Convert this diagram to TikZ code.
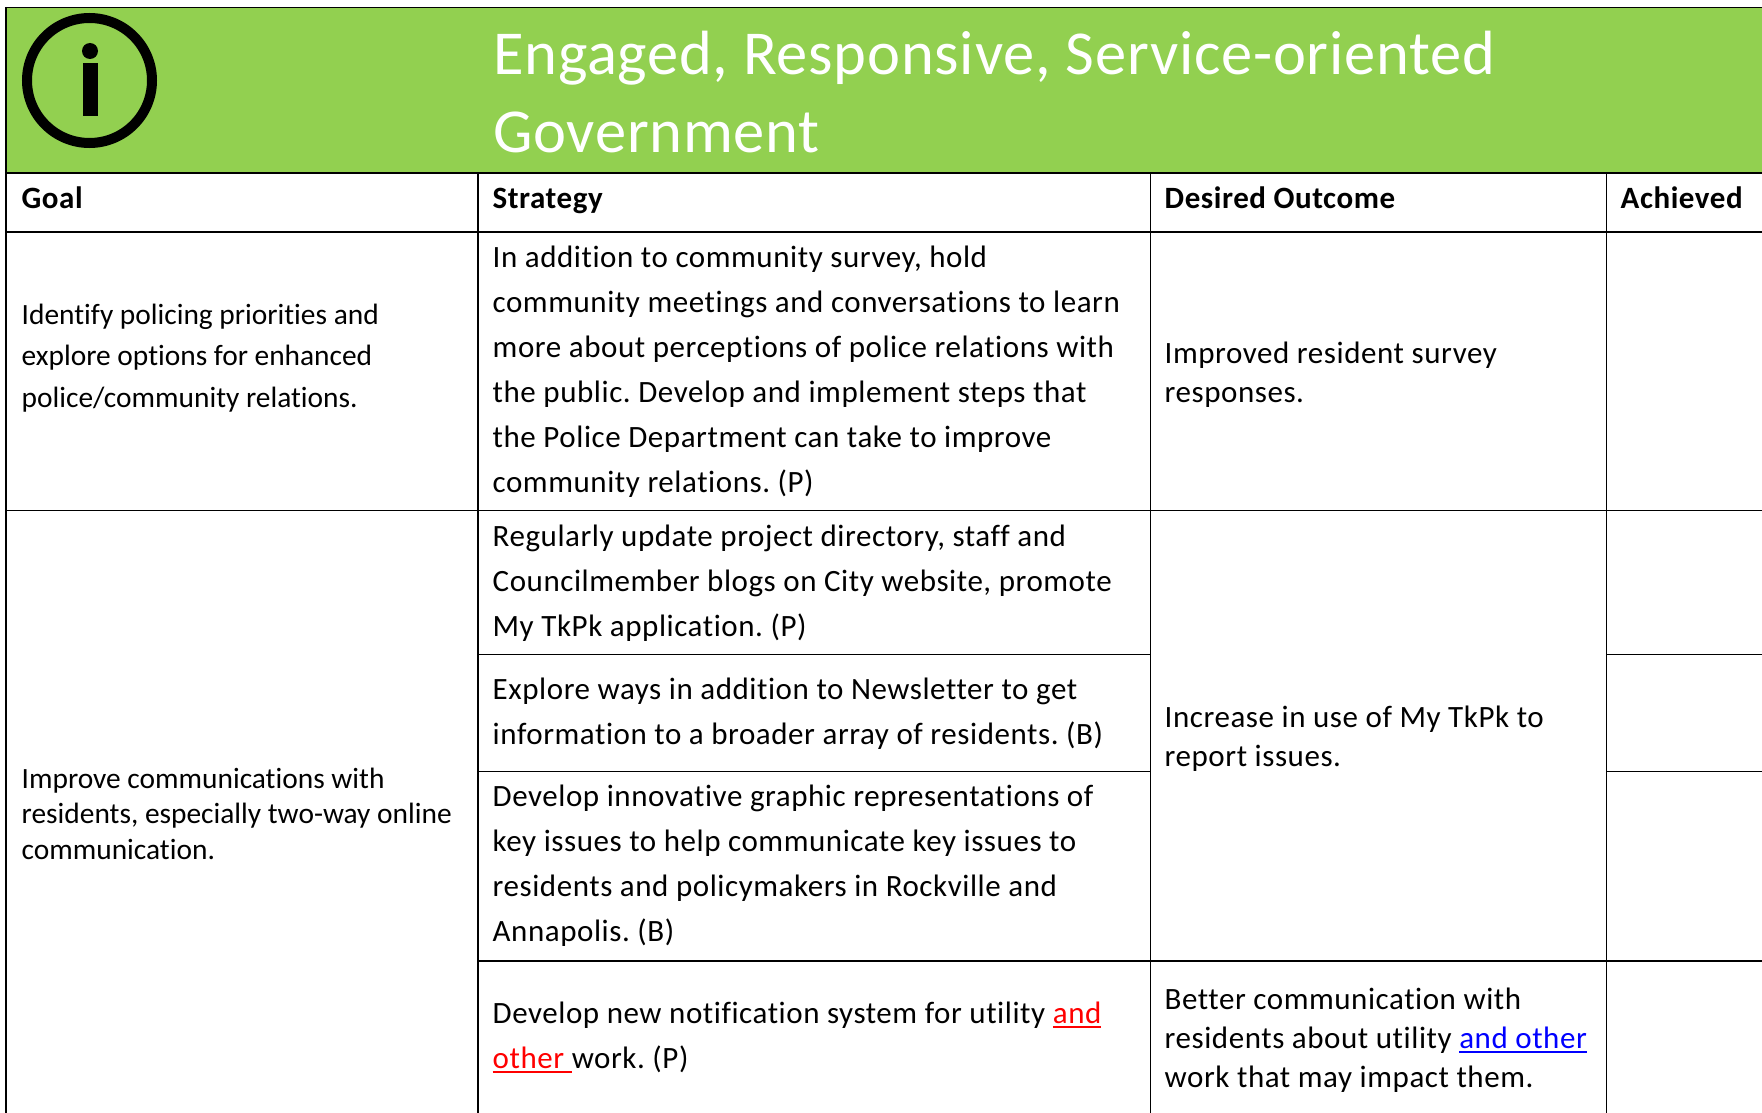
\documentclass[tikz,border=0pt]{standalone}
\usepackage{fontspec}
\setmainfont[Ligatures=NoCommon]{Carlito}
\newfontfamily\widefont[LetterSpace=1.8,Ligatures=NoCommon]{Carlito}
\newfontfamily\titlefont[LetterSpace=1.2,Ligatures=NoCommon]{Carlito}
\frenchspacing
\definecolor{bargreen}{HTML}{92D050}
\definecolor{linkblue}{HTML}{0000FF}
\definecolor{editred}{HTML}{FF0000}
\newcommand{\fix}{\rule{0pt}{30pt}}
\newcommand{\uln}[1]{\leavevmode\setbox0\hbox{#1}\rlap{\rule[-4.5pt]{\wd0}{2pt}}\box0 }
\tikzset{
  cell/.style={anchor=north west,inner sep=0pt,align=left,text=black},
  body/.style={cell,font=\widefont\fontsize{31}{45}\selectfont\frenchspacing},
  goalA/.style={cell,font=\fontsize{29.4}{41.5}\selectfont},
  goalB/.style={cell,font=\fontsize{29.4}{35.5}\selectfont},
  outcome/.style={cell,font=\widefont\fontsize{31}{39}\selectfont\frenchspacing},
  head/.style={cell,font=\widefont\fontsize{31}{36}\selectfont\bfseries},
  grid/.style={black,line width=1.8pt},
}
\begin{document}
\begin{tikzpicture}[x=1pt,y=-1pt]
\useasboundingbox (0,0) rectangle (1762,1113);
\fill[white] (0,0) rectangle (1762,1113);
\fill[bargreen] (6,7) rectangle (1762,173);
% icon
\draw[black,line width=10pt] (89.5,80.5) circle[radius=62.5pt];
\fill[black] (90,51) circle[radius=8pt];
\fill[black] (82.5,63) rectangle (97.5,116.5);
% grid
\draw[grid] (6,7.5) -- (1762,7.5);
\draw[grid] (6,173) -- (1762,173);
\draw[grid] (6,232) -- (1762,232);
\draw[grid] (6,510.5) -- (1762,510.5);
\draw[grid] (478,654.5) -- (1150.5,654.5);
\draw[grid] (1606.5,654.5) -- (1762,654.5);
\draw[grid] (478,771.5) -- (1150.5,771.5);
\draw[grid] (1606.5,771.5) -- (1762,771.5);
\draw[grid] (478,961) -- (1762,961);
\draw[grid] (6,7) -- (6,1113);
\draw[grid] (478,173) -- (478,1113);
\draw[grid] (1150.5,173) -- (1150.5,1113);
\draw[grid] (1606.5,173) -- (1606.5,1113);
% title
\node[cell,text=white,font=\titlefont\fontsize{62.5}{78}\selectfont] (title) at (493,30.5) {\fix Engaged, Responsive, Service-oriented\\Government};
% headers
\node[head] (h1) at (21.5,178) {\fix Goal};
\node[head] (h2) at (492.5,178) {\fix Strategy};
\node[head] (h3) at (1164.5,178) {\fix Desired Outcome};
\node[head] (h4) at (1620.5,178) {\fix Achieved};
% goals
\node[goalA] (g1) at (21.5,294) {\fix Identify policing priorities and\\explore options for enhanced\\police/community relations.};
\node[goalB] (g2) at (21.5,758) {\fix Improve communications with\\residents, especially two-way online\\communication.};
% strategies
\node[body] (s1) at (492.5,237.5) {\fix In addition to community survey, hold\\community meetings and conversations to learn\\more about perceptions of police relations with\\the public. Develop and implement steps that\\the Police Department can take to improve\\community relations. (P)};
\node[body] (s2) at (492.5,516) {\fix Regularly update project directory, staff and\\Councilmember blogs on City website, promote\\My TkPk application. (P)};
\node[body] (s3) at (492.5,669) {\fix Explore ways in addition to Newsletter to get\\information to a broader array of residents. (B)};
\node[body] (s4) at (492.5,776.5) {\fix Develop innovative graphic representations of\\key issues to help communicate key issues to\\residents and policymakers in Rockville and\\Annapolis. (B)};
\node[body] (s5) at (492.5,993) {\fix Develop new notification system for utility \textcolor{editred}{\uln{and}}\\\textcolor{editred}{\uln{other\ }}work. (P)};
% outcomes
\node[outcome] (o1) at (1164.5,333) {\fix Improved resident survey\\responses.};
\node[outcome] (o2) at (1164.5,697) {\fix Increase in use of My TkPk to\\report issues.};
\node[outcome] (o3) at (1164.5,979) {\fix Better communication with\\residents about utility \textcolor{linkblue}{\uln{and other}}\\work that may impact them.};
\end{tikzpicture}
\end{document}
